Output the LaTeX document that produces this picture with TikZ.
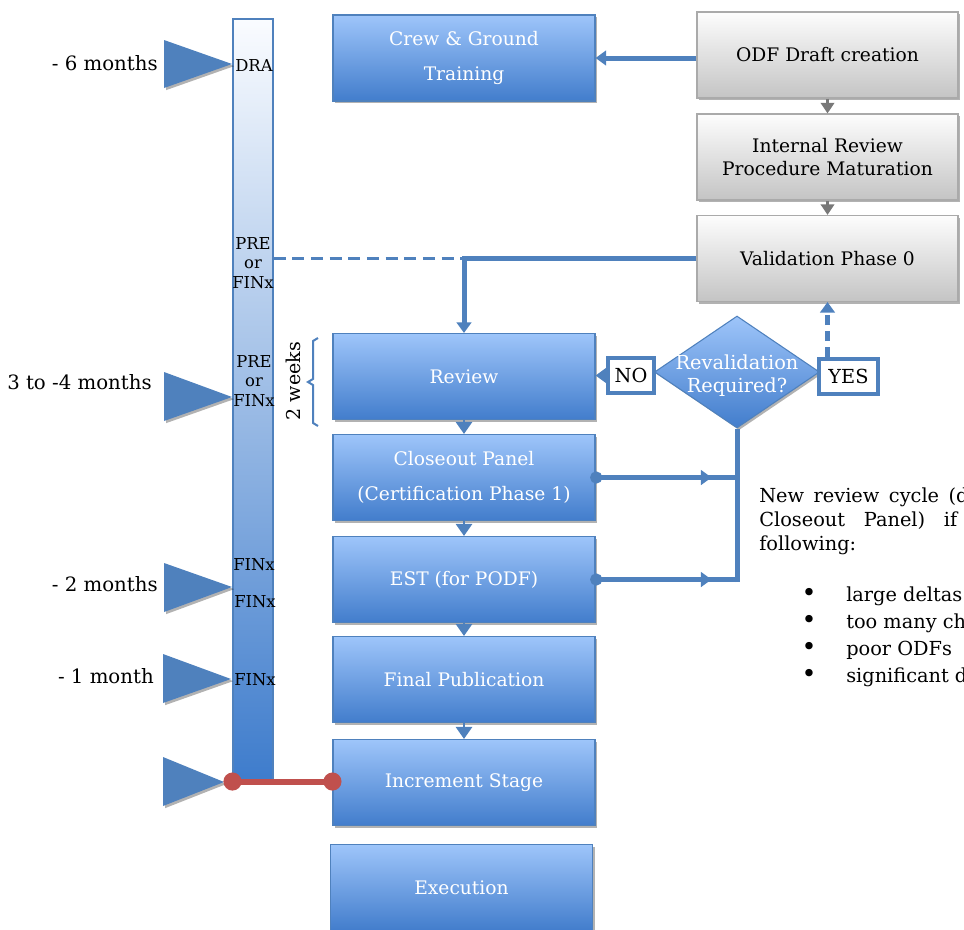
\documentclass[tikz,border=0pt]{standalone}
\usepackage{fontspec}
\setmainfont{DejaVu Serif}
\usetikzlibrary{arrows.meta,shapes.geometric,shadows,decorations.markings}
\definecolor{lineblue}{RGB}{79,129,189}
\definecolor{boxtop}{RGB}{158,197,250}
\definecolor{boxbot}{RGB}{66,125,204}
\definecolor{graytop}{RGB}{253,253,253}
\definecolor{graybot}{RGB}{196,196,196}
\definecolor{grayedge}{RGB}{170,170,170}
\definecolor{grayarrow}{RGB}{120,120,120}
\definecolor{redc}{RGB}{192,80,77}
\definecolor{bartop}{RGB}{250,252,255}
\definecolor{barbot}{RGB}{62,124,204}
\tikzset{
  shadowed/.style={drop shadow={shadow xshift=1.6pt, shadow yshift=-1.6pt, opacity=0.3, fill=black}},
  bluebox/.style={rectangle, draw=lineblue, line width=0.8pt, top color=boxtop, bottom color=boxbot,
    minimum width=196.5pt, minimum height=64.5pt, inner sep=0pt, text=white, align=center,
    font=\fontsize{14}{26}\selectfont, shadowed},
  graybox/.style={rectangle, draw=grayedge, line width=0.8pt, top color=graytop, bottom color=graybot,
    minimum width=195.75pt, minimum height=64.5pt, inner sep=0pt, text=black, align=center,
    font=\fontsize{14}{17.5}\selectfont, shadowed},
  barbox/.style={rectangle, draw=lineblue, line width=0.8pt, top color=bartop, bottom color=barbot,
    minimum width=30pt, minimum height=571.5pt, inner sep=0pt},
  barlbl/.style={align=center, inner sep=0pt, font=\fontsize{12.3}{14.6}\selectfont},
  monthlbl/.style={anchor=east, inner sep=0pt, font=\fontsize{14.8}{17}\selectfont},
  marker/.style={fill=lineblue, shadowed},
  conn/.style={draw=lineblue, line width=3.75pt},
  bigarrow/.style={-{Triangle[width=11pt,length=8pt]}},
  stepdown/.style={draw=lineblue, line width=2pt, -{Triangle[width=12pt,length=9pt]}},
  graystep/.style={draw=grayarrow, line width=2pt, -{Triangle[width=10pt,length=8pt]}},
  dia/.style={diamond, draw=lineblue, line width=0.8pt, top color=boxtop, bottom color=boxbot,
    minimum width=123.75pt, minimum height=84pt, inner sep=0pt, shadowed},
  ynbox/.style={rectangle, draw=lineblue, line width=3pt, fill=white, inner sep=0pt,
    minimum height=26pt, font=\fontsize{14.5}{17}\selectfont},
  midarrow/.style={postaction={decorate}, decoration={markings,
    mark=at position #1 with {\arrow{Triangle[width=11pt,length=8pt]}}}},
  rtext/.style={anchor=base west, inner sep=0pt, font=\fontsize{14.5}{18}\selectfont},
  bullet/.style={anchor=base, inner sep=0pt, font=\fontsize{19}{20}\selectfont},
}
\begin{document}
\begin{tikzpicture}[x=0.75pt, y=-0.75pt]
\useasboundingbox (0,0) rectangle (964,929);
\clip (0,0) rectangle (964,929);

% timeline bar
\node[barbox] (bar) at (253,400) {};

% markers
\fill[marker] (164,40) -- (232,64) -- (164,88) -- cycle;
\fill[marker] (164,372) -- (232,397) -- (164,421) -- cycle;
\fill[marker] (164,563) -- (232,587) -- (164,612) -- cycle;
\fill[marker] (163,654) -- (231,679) -- (163,703) -- cycle;
\fill[marker] (163,757) -- (224,782) -- (163,806) -- cycle;

\node[monthlbl] (m6) at (158,63) {- 6 months};
\node[monthlbl] (m34) at (152,382) {3 to -4 months};
\node[monthlbl] (m2) at (158,584) {- 2 months};
\node[monthlbl] (m1) at (154,676) {- 1 month};

% bar labels
\node[barlbl] (l1) at (254,66) {DRA};
\node[barlbl] (l2) at (253,263) {PRE\\or\\FINx};
\node[barlbl] (l3) at (254,381) {PRE\\or\\FINx};
\node[barlbl] (l4) at (254,565) {FINx};
\node[barlbl] (l5) at (255,602) {FINx};
\node[barlbl] (l6) at (255,680) {FINx};

% 2 weeks
\node[rotate=90, inner sep=0pt, font=\fontsize{14.3}{16}\selectfont] (wk) at (293,381) {2 weeks};
\draw[lineblue, line width=1.5pt] (318,338) -- (313,341) -- (313,379) -- (308,382) -- (313,385) -- (313,423) -- (318,426);

% blue boxes
\node[bluebox] (crew) at (464,58) {Crew \& Ground\\Training};
\node[bluebox] (review) at (464,376.5) {Review};
\node[bluebox] (close) at (464,477.5) {Closeout Panel\\(Certification Phase 1)};
\node[bluebox] (est) at (464,579.5) {EST (for PODF)};
\node[bluebox] (final) at (464,679.5) {Final Publication};
\node[bluebox] (inc) at (464,782.5) {Increment Stage};
\node[bluebox] (exec) at (461.5,887.5) {Execution};

% gray boxes
\node[graybox] (odf) at (827.5,55) {ODF Draft creation};
\node[graybox] (irpm) at (827.5,157) {Internal Review\\Procedure Maturation};
\node[graybox] (val) at (827.5,258.5) {Validation Phase 0};

% diamond and yes/no
\node[dia, label={[text=white, align=center, yshift=-2.5pt, font=\fontsize{14.5}{17.5}\selectfont]center:Revalidation\\Required?}] (dia) at (737,372) {};
\node[ynbox, minimum width=34.5pt] (no) at (631,375.5) {NO};
\node[ynbox, minimum width=44pt] (yes) at (848.5,376.5) {YES};

% coordinates
\coordinate (vjoin) at (review.north |- val.west);
\coordinate (closej) at (dia.south |- close.east);
\coordinate (estj) at (dia.south |- est.east);

% connectors
\draw[conn, bigarrow] (odf.west |- crew.east) -- (crew.east);
\draw[graystep] (odf.south) -- (irpm.north);
\draw[graystep] (irpm.south) -- (val.north);
\draw[lineblue, line width=2.2pt, dash pattern=on 9pt off 5pt] (bar.east |- vjoin) -- (vjoin);
\draw[conn, bigarrow] (val.west) -| (review.north);
\draw[stepdown] (review.south) -- (close.north);
\draw[stepdown] (close.south) -- (est.north);
\draw[stepdown] (est.south) -- (final.north);
\draw[stepdown] (final.south) -- (inc.north);
\draw[conn, bigarrow] (no.west) -- (review.east |- no.west);
\draw[conn, bigarrow, dash pattern=on 8pt off 4pt] (val.south |- yes.north) -- (val.south);
\draw[conn] ([yshift=-1.875pt]estj) -- (dia.south);
\draw[conn, {Circle[length=9pt]}-, midarrow=91pt] ([xshift=-4pt]close.east) -- (closej);
\draw[conn, {Circle[length=9pt]}-, midarrow=91pt] ([xshift=-4pt]est.east) -- (estj);

% red link
\draw[redc, line width=4.5pt, {Circle[length=13.5pt]}-{Circle[length=13.5pt]}] ([xshift=-6.75pt]bar.south west) -- ([xshift=6.75pt]inc.west |- bar.south west);

% side note
\node[rtext] (t1) at (759,502) {\makebox[157pt][s]{New review cycle (d}};
\node[rtext] (t2) at (759,526) {\makebox[148.5pt][s]{Closeout Panel) if}};
\node[rtext] (t3) at (759,550) {following:};
\node[bullet] (b1) at (809,601) {•};
\node[bullet] (b2) at (809,628) {•};
\node[bullet] (b3) at (809,655) {•};
\node[bullet] (b4) at (809,682) {•};
\node[rtext] (i1) at (846,601) {large deltas};
\node[rtext] (i2) at (846,628) {too many ch};
\node[rtext] (i3) at (846,655) {poor ODFs};
\node[rtext] (i4) at (846,682) {significant d};
\end{tikzpicture}
\end{document}
